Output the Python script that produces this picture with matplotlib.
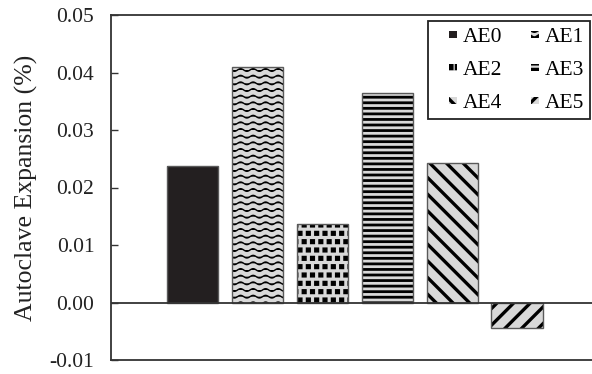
import numpy as np
import matplotlib
matplotlib.use('Agg')
import matplotlib.pyplot as plt
import matplotlib.hatch as mhatch
from matplotlib.path import Path
from matplotlib.patches import Rectangle
from matplotlib.legend_handler import HandlerPatch
import warnings

warnings.filterwarnings('ignore')

labels = ['AE0', 'AE1', 'AE2', 'AE3', 'AE4', 'AE5']
values = [0.0238, 0.0410, 0.0137, 0.0365, 0.0243, -0.0045]
yticks = [-0.01, 0.00, 0.01, 0.02, 0.03, 0.04, 0.05]


# extra hatch types: '~' wavy rows, 's' small filled squares
class WaveHatch(mhatch.HatchPatternBase):
    def __init__(self, hatch, density):
        self.num_rows = int(hatch.count('~') * density * 1.25)
        self.n_pts = 97
        self.num_vertices = self.num_rows * self.n_pts

    def set_vertices_and_codes(self, vertices, codes):
        t = np.linspace(0, 1, self.n_pts)
        amp = 0.2 / max(self.num_rows, 1)
        for k in range(self.num_rows):
            y0 = (k + 0.5) / self.num_rows
            sl = slice(k * self.n_pts, (k + 1) * self.n_pts)
            vertices[sl, 0] = t
            vertices[sl, 1] = y0 + amp * np.sin(2 * np.pi * 8 * t)
            codes[sl] = Path.LINETO
            codes[k * self.n_pts] = Path.MOVETO


class SquareHatch(mhatch.Shapes):
    filled = True
    size = 0.45

    def __init__(self, hatch, density):
        self.num_rows = hatch.count('s') * density
        self.shape_vertices = np.array([[-0.5, -0.5], [0.5, -0.5], [0.5, 0.5],
                                        [-0.5, 0.5], [-0.5, -0.5]])
        self.shape_codes = np.array([Path.MOVETO, Path.LINETO, Path.LINETO,
                                     Path.LINETO, Path.CLOSEPOLY],
                                    dtype=Path.code_type)
        super().__init__(hatch, density)


mhatch._hatch_types.append(WaveHatch)
mhatch._hatch_types.append(SquareHatch)


def square_handle(legend, orig_handle, xdescent, ydescent, width, height, fontsize):
    s = 0.36 * fontsize
    return Rectangle((-xdescent + width - s, -ydescent + (height - s) / 2), s, s)


plt.rcParams['font.family'] = ['Liberation Serif', 'DejaVu Serif']

hatches = [None, '~~', 'ss', '---', '\\\\', '//']
fills = ['#231f20', '#d9d9d9', '#d9d9d9', '#d9d9d9', '#d9d9d9', '#d9d9d9']
hatch_lw = [1.0, 1.0, 1.0, 2.0, 2.4, 2.4]

fig = plt.figure(figsize=(5.92, 3.74), dpi=100)
W, H = 592, 374
ax = fig.add_axes([111 / W, 14 / H, (600 - 111) / W, 345 / H])

x = np.arange(len(labels))
handles = []
for i in range(len(labels)):
    plt.rcParams['hatch.linewidth'] = hatch_lw[i]
    b = ax.bar(x[i], values[i], width=0.786, color=fills[i], hatch=hatches[i],
               edgecolor='black', linewidth=0, label=labels[i])
    for p in b:
        if hasattr(p, 'set_hatch_linewidth'):
            p.set_hatch_linewidth(hatch_lw[i])
    handles.append(b[0])
    ax.bar(x[i], values[i], width=0.786, fill=False, edgecolor='#5a5a5a',
           linewidth=1.0)

ax.axhline(0, color='#333333', lw=1.3)
ax.set_xlim(-1.256, (600 - 192.5) / 64.9)
ax.set_ylim(-0.01, 0.05)
ax.set_yticks(yticks)
ax.set_yticklabels(['%.2f' % v for v in yticks], fontsize=15.5)
ax.tick_params(axis='y', direction='in', length=5, width=1.0, pad=12,
               colors='#333333', labelcolor='#222222')
ax.set_xticks([])
ax.set_ylabel('Autoclave Expansion (%)', fontsize=18.5, color='#222222', labelpad=8)
for s in ['left', 'top', 'bottom']:
    ax.spines[s].set_color('#333333')
    ax.spines[s].set_linewidth(1.3)
ax.spines['right'].set_visible(False)

# legend is filled column-wise, so reorder to read row-wise like the original
order = [0, 2, 4, 1, 3, 5]
leg = ax.legend([handles[k] for k in order], [labels[k] for k in order],
                ncol=2, loc='upper left', bbox_to_anchor=(428 / W, 1 - 21 / H),
                bbox_transform=fig.transFigure, fontsize=15.5, frameon=True,
                fancybox=False, edgecolor='#222222', framealpha=1,
                handlelength=1.07, handleheight=0.7, handletextpad=0.28,
                columnspacing=0.6, labelspacing=0.6, borderpad=0.28,
                borderaxespad=0,
                handler_map={Rectangle: HandlerPatch(patch_func=square_handle)})
leg.get_frame().set_linewidth(1.3)

fig.savefig('out.png', dpi=100)
